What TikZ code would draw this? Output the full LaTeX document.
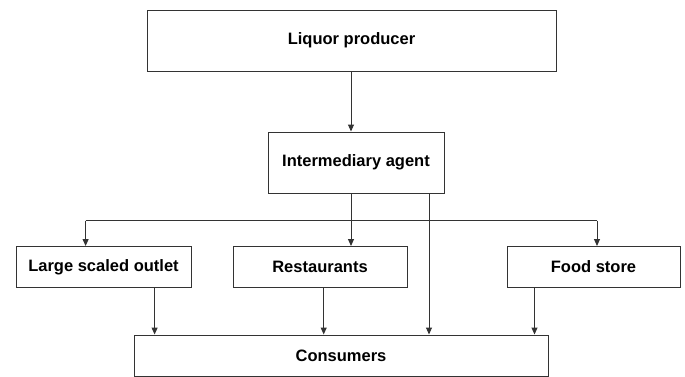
\documentclass[tikz,border=0pt]{standalone}
\usepackage{fontspec}
\setmainfont{Liberation Sans}
\usepackage{tikz}
\usetikzlibrary{arrows.meta}
\newcommand{\linecol}{black!80}

\tikzset{
  box/.style={draw=\linecol, line width=1pt, inner sep=0pt,
    font=\fontsize{16.5}{20}\selectfont\bfseries},
  flow/.style={draw=\linecol, line width=1pt},
  arr/.style={flow, -{Triangle[length=7pt,width=6pt]}}
}

\begin{document}
\begin{tikzpicture}[x=1pt, y=-1pt]

    \useasboundingbox (0, 0) rectangle (685, 376);

    \node[box, minimum width=409pt, minimum height=61pt] (prod) at (351.5, 40.5) {Liquor producer};
    \node[box, minimum width=176pt, minimum height=61pt] (agent) at (356, 162.5) {Intermediary agent};

    \node[box, minimum width=175pt, minimum height=41pt] (large) at (103.5, 267) {Large scaled outlet};
    \node[box, minimum width=174pt, minimum height=41pt] (rest) at (320, 267) {Restaurants};
    \node[box, minimum width=173pt, minimum height=41pt] (food) at (593.5, 267) {Food store};

    \node[box, minimum width=414pt, minimum height=41pt] (cons) at (341, 355.5) {Consumers};

    % drop points
    \coordinate (mid) at (351, 0);
    \coordinate (direct) at (429, 0);
    \coordinate (dl) at (154.6, 0);
    \coordinate (dr) at (323.7, 0);
    \coordinate (df) at (534.5, 0);
    \coordinate (hl) at (85.6, 220.7);
    \coordinate (hr) at (597, 220.7);

    \draw[arr] (prod.south -| mid) -- (agent.north -| mid);
    \draw[arr] (agent.south -| mid) -- (rest.north -| mid);
    \draw[flow] (hl) -- (hr);
    \draw[arr] (hl) -- (hl |- large.north);
    \draw[arr] (hr) -- (hr |- food.north);
    \draw[arr] (agent.south -| direct) -- (cons.north -| direct);

    \draw[arr] (large.south -| dl) -- (cons.north -| dl);
    \draw[arr] (rest.south -| dr) -- (cons.north -| dr);
    \draw[arr] (food.south -| df) -- (cons.north -| df);

\end{tikzpicture}
\end{document}
